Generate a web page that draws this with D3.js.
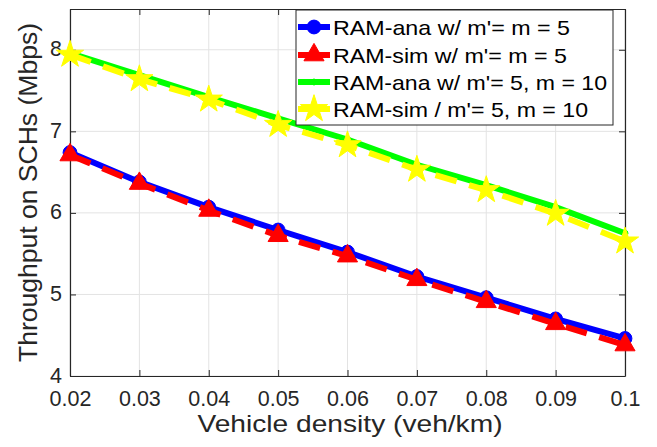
<!DOCTYPE html>
<html><head><meta charset="utf-8">
<script src="https://cdn.jsdelivr.net/npm/d3@7"></script>
<style>body{margin:0;background:#fff;}svg{display:block;font-family:"Liberation Sans",Arial,sans-serif;}</style>
</head><body><svg id="c" width="657" height="447"></svg>
<script>
const density = [0.02,0.03,0.04,0.05,0.06,0.07,0.08,0.09,0.10];
const anaM5   = [6.74,6.38,6.07,5.79,5.52,5.22,4.96,4.70,4.46];
const simM5   = [6.71,6.36,6.03,5.72,5.47,5.18,4.91,4.64,4.38];
const anaM10  = [7.96,7.69,7.42,7.16,6.90,6.59,6.34,6.07,5.75];
const simM10  = [7.94,7.64,7.39,7.08,6.83,6.53,6.28,5.99,5.65];
const xTicks = [0.02,0.03,0.04,0.05,0.06,0.07,0.08,0.09,0.1];
const xTickLabels = ["0.02","0.03","0.04","0.05","0.06","0.07","0.08","0.09","0.1"];
const yTicks = [4,5,6,7,8];
const yTickLabels = ["4","5","6","7","8"];
const seriesNames = ["RAM-ana w/ m'= m = 5","RAM-sim w/ m'= m = 5","RAM-ana w/ m'= 5, m = 10","RAM-sim / m'= 5, m = 10"];
const seriesColors = ["#0000ff","#ff0000","#00ff00","#ffff00"];

const svg = d3.select("#c");
const L=70,R=625,T=9,B=376;
const x = d3.scaleLinear().domain([0.02,0.1]).range([L,R]);
const y = d3.scaleLinear().domain([4,8.5]).range([B,T]);
const axisCol="#262626";

// grid
const g = svg.append("g");
g.selectAll(".gx").data(xTicks).join("line").attr("x1",d=>x(d)).attr("x2",d=>x(d)).attr("y1",T).attr("y2",B).attr("stroke","#e3e3e3").attr("stroke-width",1);
g.selectAll(".gy").data(yTicks).join("line").attr("y1",d=>y(d)).attr("y2",d=>y(d)).attr("x1",L).attr("x2",R).attr("stroke","#e3e3e3").attr("stroke-width",1);

// axes
const xa = svg.append("g").attr("transform",`translate(0,${B})`).call(d3.axisBottom(x).tickValues(xTicks).tickFormat((d,i)=>xTickLabels[i]).tickSizeInner(-6).tickSizeOuter(0).tickPadding(15));
const xt = svg.append("g").attr("transform",`translate(0,${T})`).call(d3.axisTop(x).tickValues(xTicks).tickFormat("").tickSizeInner(-6).tickSizeOuter(0));
const ya = svg.append("g").attr("transform",`translate(${L},0)`).call(d3.axisLeft(y).tickValues(yTicks).tickFormat((d,i)=>yTickLabels[i]).tickSizeInner(-6).tickSizeOuter(0).tickPadding(8));
const yr = svg.append("g").attr("transform",`translate(${R},0)`).call(d3.axisRight(y).tickValues(yTicks).tickFormat("").tickSizeInner(-6).tickSizeOuter(0));
[xa,xt,ya,yr].forEach(a=>{
  a.attr("font-size",21.5).attr("font-family","Liberation Sans, Arial, sans-serif");
  a.select(".domain").attr("stroke",axisCol).attr("stroke-width",1.2);
  a.selectAll(".tick line").attr("stroke",axisCol).attr("stroke-width",1);
  a.selectAll("text").attr("fill",axisCol);
});
xa.selectAll("text").attr("dy","0.71em");
ya.selectAll("text").attr("dy","0.28em");

// series
const lineGen = d3.line().x((d,i)=>x(density[i])).y(d=>y(d));
const sets = [anaM5,simM5,anaM10,simM10];
const dashes = [null,"22,13",null,"22,13"];
const sym = [d3.symbol(d3.symbolCircle,150),d3.symbol(d3.symbolTriangle,175),d3.symbol(d3.symbolCircle,28),d3.symbol(d3.symbolStar,230)];
sets.forEach((s,k)=>{
  svg.append("path").datum(s).attr("d",lineGen).attr("fill","none").attr("stroke",seriesColors[k]).attr("stroke-width",6).attr("stroke-dasharray",dashes[k]);
  svg.selectAll(null).data(s).join("path").attr("d",sym[k]).attr("transform",(d,i)=>`translate(${x(density[i])},${y(d)})`).attr("fill",seriesColors[k]).attr("stroke",seriesColors[k]).attr("stroke-width",1);
});

// legend
const lg = svg.append("g");
lg.append("rect").attr("x",296).attr("y",10).attr("width",317).attr("height",115).attr("fill","#fff").attr("stroke",axisCol).attr("stroke-width",1);
const rowY=[27,55,82,109];
const textLen=[237,234,274,255];
seriesNames.forEach((n,k)=>{
  lg.append("line").attr("x1",298).attr("x2",330).attr("y1",rowY[k]).attr("y2",rowY[k]).attr("stroke",seriesColors[k]).attr("stroke-width",6);
  lg.append("path").attr("d",sym[k]).attr("transform",`translate(314,${rowY[k]})`).attr("fill",seriesColors[k]).attr("stroke",seriesColors[k]);
  lg.append("text").attr("x",333).attr("y",rowY[k]+8).text(n).attr("fill","#000").style("font-size","21px").attr("textLength",textLen[k]).attr("lengthAdjust","spacingAndGlyphs");
});

// axis labels
svg.append("text").attr("x",350).attr("y",432).attr("text-anchor","middle").style("font-size","24px").attr("fill",axisCol).attr("textLength",305).attr("lengthAdjust","spacingAndGlyphs").text("Vehicle density (veh/km)");
svg.append("text").attr("transform","translate(37,192.5) rotate(-90)").attr("text-anchor","middle").style("font-size","25px").attr("fill",axisCol).attr("textLength",339).attr("lengthAdjust","spacingAndGlyphs").text("Throughput on SCHs (Mbps)");
</script></body></html>
